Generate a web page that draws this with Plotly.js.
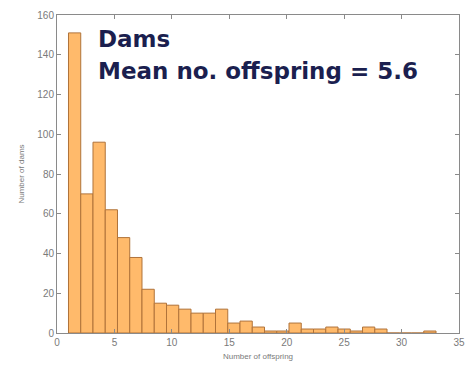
<!DOCTYPE html>
<html>
<head>
<meta charset="utf-8">
<script src="https://cdn.plot.ly/plotly-3.0.1.min.js"></script>
<style>html,body{margin:0;padding:0;background:#fff;}#chart{width:465px;height:367px;}</style>
</head>
<body>
<div id="chart"></div>
<script>
// Histogram of number of offspring per dam (30 bins from 1 to 33)
const binStart = 1;
const binEnd = 33;
const counts = [151, 70, 96, 62, 48, 38, 22, 15, 14, 12, 10, 10, 12, 5, 6, 3, 1, 1, 5, 2, 2, 3, 2, 1, 3, 2, 0, 0, 0, 1];
const xTicks = [0, 5, 10, 15, 20, 25, 30, 35];
const yTicks = [0, 20, 40, 60, 80, 100, 120, 140, 160];
const titleLines = ["Dams", "Mean no. offspring = 5.6"];

const binW = (binEnd - binStart) / counts.length;
const centers = counts.map((_, i) => binStart + binW * (i + 0.5));

const trace = {
  type: 'bar',
  x: centers,
  y: counts,
  width: binW,
  marker: {color: '#ffba6b', line: {color: '#b0733a', width: 1}},
  hoverinfo: 'x+y'
};

const axisCommon = {
  showgrid: false, zeroline: false, showline: true, mirror: 'ticks',
  linecolor: '#8a8a8a', linewidth: 1, ticks: 'inside', ticklen: 4, tickcolor: '#8a8a8a',
  tickfont: {family: 'Liberation Sans, Arial, sans-serif', size: 10, color: '#7a7a7a'}
};

const layout = {
  width: 465, height: 367,
  margin: {l: 57, r: 6, t: 15, b: 34},
  paper_bgcolor: '#fff', plot_bgcolor: '#fff',
  showlegend: false,
  bargap: 0,
  xaxis: Object.assign({}, axisCommon, {
    range: [0, 35], tickvals: xTicks, ticktext: xTicks.map(String),
    title: {text: 'Number of offspring', font: {family: 'Liberation Sans, Arial, sans-serif', size: 8, color: '#7a7a7a'}, standoff: 6}
  }),
  yaxis: Object.assign({}, axisCommon, {
    range: [0, 160], tickvals: yTicks, ticktext: yTicks.map(String),
    title: {text: 'Number of dams', font: {family: 'Liberation Sans, Arial, sans-serif', size: 8, color: '#7a7a7a'}, standoff: 11}
  }),
  annotations: [
    {text: '<b>' + titleLines[0] + '</b>', xref: 'paper', yref: 'paper', x: 0.098, y: 0.925, xanchor: 'left', yanchor: 'middle', showarrow: false,
     font: {family: 'DejaVu Sans, Verdana, sans-serif', size: 23, color: '#1b1f4f'}},
    {text: '<b>' + titleLines[1] + '</b>', xref: 'paper', yref: 'paper', x: 0.098, y: 0.825, xanchor: 'left', yanchor: 'middle', showarrow: false,
     font: {family: 'DejaVu Sans, Verdana, sans-serif', size: 23, color: '#1b1f4f'}}
  ]
};

Plotly.newPlot('chart', [trace], layout, {displayModeBar: false, staticPlot: true});
</script>
</body>
</html>
